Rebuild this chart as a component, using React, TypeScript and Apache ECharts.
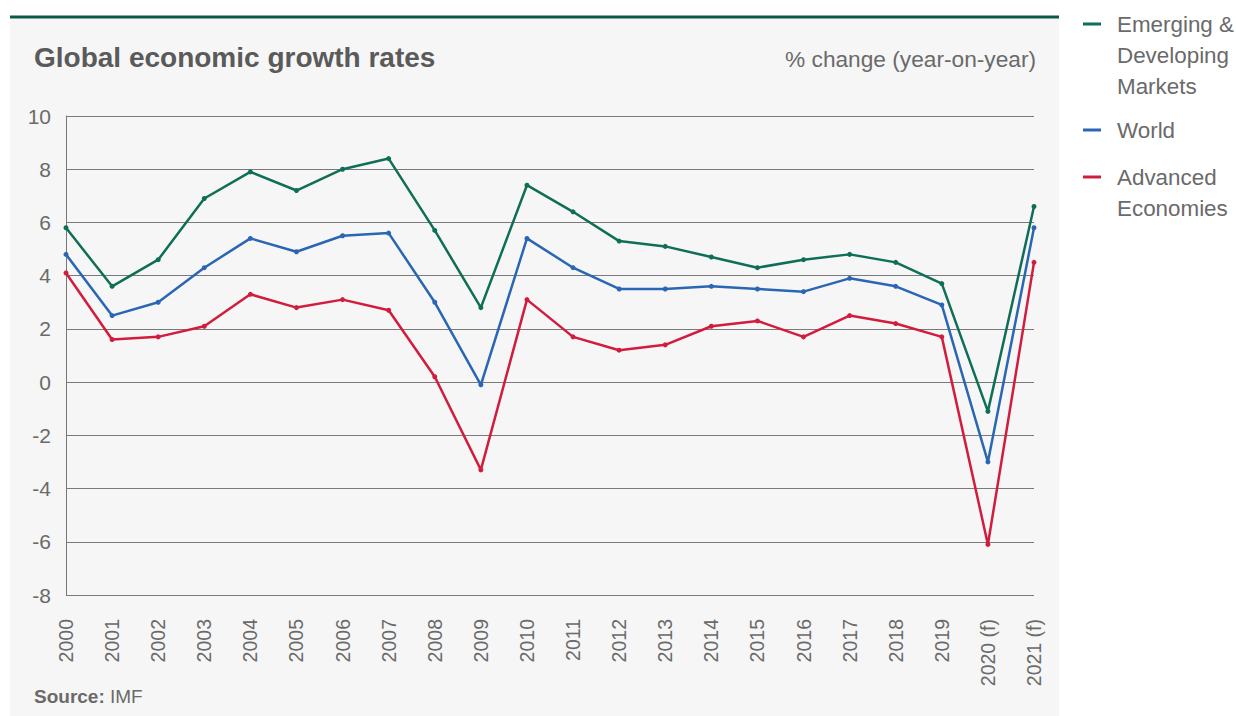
import React, { useEffect, useRef } from "react";
import * as echarts from "echarts";

const years = ["2000","2001","2002","2003","2004","2005","2006","2007","2008","2009","2010","2011","2012","2013","2014","2015","2016","2017","2018","2019","2020 (f)","2021 (f)"];
const emerging = [5.8,3.6,4.6,6.9,7.9,7.2,8.0,8.4,5.7,2.8,7.4,6.4,5.3,5.1,4.7,4.3,4.6,4.8,4.5,3.7,-1.1,6.6];
const world = [4.8,2.5,3.0,4.3,5.4,4.9,5.5,5.6,3.0,-0.1,5.4,4.3,3.5,3.5,3.6,3.5,3.4,3.9,3.6,2.9,-3.0,5.8];
const advanced = [4.1,1.6,1.7,2.1,3.3,2.8,3.1,2.7,0.2,-3.3,3.1,1.7,1.2,1.4,2.1,2.3,1.7,2.5,2.2,1.7,-6.1,4.5];
const seriesNames = ["Emerging & Developing Markets", "World", "Advanced Economies"];
const legendLabels = [["Emerging &", "Developing", "Markets"], ["World"], ["Advanced", "Economies"]];
const colors = ["#0f6e56", "#2a66b4", "#d21c3d"];

const FONT = "'Liberation Sans', Arial, Helvetica, sans-serif";

export default function App() {
  const ref = useRef<HTMLDivElement>(null);
  useEffect(() => {
    if (!ref.current) return;
    const chart = echarts.init(ref.current, null, { renderer: "svg" });
    const legendTops = [9, 115, 162];
    const legendGraphics: any[] = [];
    legendLabels.forEach((lines, i) => {
      legendGraphics.push({
        type: "line",
        shape: { x1: 1083, y1: legendTops[i] + 15, x2: 1101, y2: legendTops[i] + 15 },
        style: { stroke: colors[i], lineWidth: 3 },
      });
      legendGraphics.push({
        type: "text",
        left: 1117,
        top: legendTops[i],
        style: {
          text: lines.join("\n"),
          font: `22.4px ${FONT}`,
          fill: "#6a6a6a",
          lineHeight: 31,
        },
      });
    });
    const data = [emerging, world, advanced];
    chart.setOption({
      animation: false,
      textStyle: { fontFamily: FONT },
      graphic: [
        { type: "rect", z: -10, shape: { x: 10, y: 17, width: 1049, height: 699 }, style: { fill: "#f6f6f6" } },
        { type: "line", z: -5, shape: { x1: 10, y1: 17, x2: 1059, y2: 17 }, style: { stroke: "#0b5a46", lineWidth: 3 } },
        {
          type: "text", left: 34, top: 43,
          style: { text: "Global economic growth rates", font: `bold 28px ${FONT}`, fill: "#5a5a5a" },
        },
        {
          type: "text", right: 1236 - 1036, top: 47,
          style: { text: "% change (year-on-year)", font: `22.7px ${FONT}`, fill: "#6a6a6a", textAlign: "right" },
        },
        {
          type: "text", left: 34, top: 687,
          style: {
            text: "{b|Source:} IMF",
            font: `19px ${FONT}`,
            fill: "#6a6a6a",
            rich: { b: { fontWeight: "bold", fontSize: 19, fill: "#6a6a6a", fontFamily: FONT } },
          },
        },
        ...legendGraphics,
      ],
      grid: { left: 66, right: 202, top: 116, bottom: 121, containLabel: false },
      xAxis: {
        type: "category",
        data: years,
        boundaryGap: false,
        axisLine: { show: false },
        axisTick: { show: false },
        axisLabel: { interval: 0, rotate: 90, margin: 24, fontSize: 19.5, color: "#6a6a6a", fontFamily: FONT },
      },
      yAxis: {
        type: "value",
        min: -8,
        max: 10,
        interval: 2,
        axisLine: { show: true, lineStyle: { color: "#777", width: 1 } },
        axisTick: { show: false },
        axisLabel: { margin: 15, fontSize: 21, color: "#6a6a6a", fontFamily: FONT },
        splitLine: { lineStyle: { color: "#7a7a7a", width: 1 } },
      },
      series: data.map((d, i) => ({
        name: seriesNames[i],
        type: "line",
        data: d,
        symbol: "circle",
        symbolSize: 5,
        lineStyle: { color: colors[i], width: 2.5 },
        itemStyle: { color: colors[i] },
        z: 10 - i,
      })),
    });
    return () => chart.dispose();
  }, []);
  return (
    <div style={{ position: "fixed", left: 0, top: 0, width: 1236, height: 716, background: "#fff" }}>
      <div ref={ref} style={{ width: 1236, height: 716 }} />
    </div>
  );
}
